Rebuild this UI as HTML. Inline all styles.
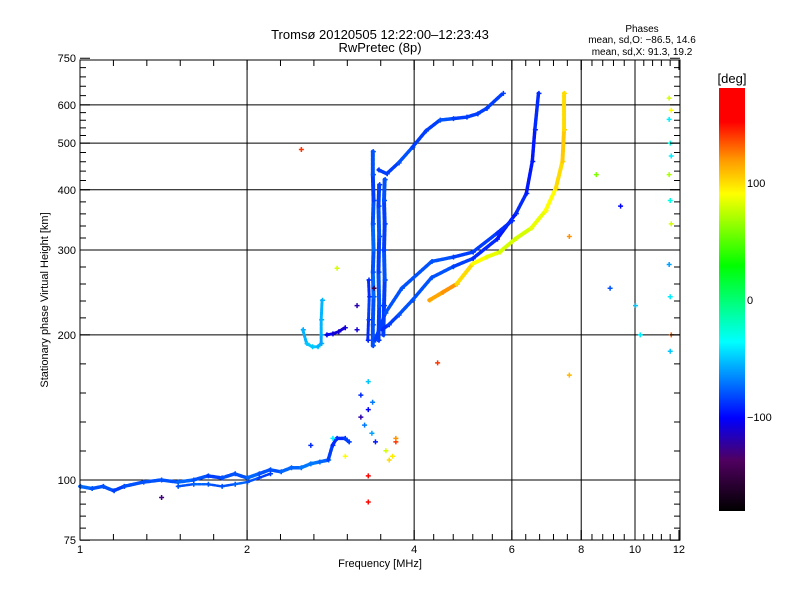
<!DOCTYPE html>
<html><head><meta charset="utf-8"><style>
body{margin:0;background:#fff;width:800px;height:600px;overflow:hidden}
svg text{font-family:"Liberation Sans",sans-serif;fill:#000}
</style></head><body>
<svg id="chart" width="800" height="600" xmlns="http://www.w3.org/2000/svg">
<defs><linearGradient id="cg" x1="0" y1="1" x2="0" y2="0">
<stop offset="0" stop-color="#000"/><stop offset="0.12" stop-color="#500060"/><stop offset="0.22" stop-color="#0000ff"/>
<stop offset="0.4" stop-color="#00ffff"/><stop offset="0.58" stop-color="#00ff00"/><stop offset="0.75" stop-color="#ffff00"/>
<stop offset="0.83" stop-color="#ff9900"/><stop offset="0.92" stop-color="#ff0000"/><stop offset="1" stop-color="#ff0000"/></linearGradient></defs>
<text x="380" y="39" font-size="13" text-anchor="middle">Tromsø 20120505 12:22:00–12:23:43</text>
<text x="380" y="52" font-size="13" text-anchor="middle">RwPretec (8p)</text>
<text x="642" y="32" font-size="10" text-anchor="middle">Phases</text>
<text x="642" y="43" font-size="10" text-anchor="middle">mean, sd,O: −86.5, 14.6</text>
<text x="642" y="55" font-size="10" text-anchor="middle">mean, sd,X:  91.3, 19.2</text>
<rect x="719" y="88" width="26" height="423" fill="url(#cg)"/>
<text x="732" y="83" font-size="13" text-anchor="middle">[deg]</text>
<g id="grid"></g><g id="marks"></g><g id="axes"></g>
<text x="380" y="567" font-size="11" text-anchor="middle">Frequency [MHz]</text>
<text transform="translate(48,300) rotate(-90)" font-size="11" text-anchor="middle">Stationary phase Virtual Height [km]</text>
</svg>
<script>
const xTicks=[1,2,4,6,8,10,12];
const yTicks=[75,100,200,300,400,500,600,750];
const yGrid=[100,200,300,400,500,600];
const xGrid=[2,4,6,8,10];
const cbTicks=[100,0,-100];
// traces: freq (MHz), height (km), phase (deg)
const eFreq=[1,1.05,1.1,1.15,1.2,1.3,1.4,1.5,1.6,1.7,1.8,1.9,2.0,2.1,2.2,2.3,2.4,2.5,2.6,2.7,2.8,2.85,2.9,3.0,3.05];
const eHeight=[97,96,97,95,97,99,100,99,100,102,101,103,101,103,105,104,106,106,108,109,110,118,122,122,120];
const ePhase=[-75,-75,-80,-80,-85,-80,-80,-80,-75,-80,-85,-80,-80,-75,-80,-80,-75,-75,-70,-70,-75,-85,-90,-90,-85];
const e2Freq=[1.5,1.6,1.7,1.8,1.9,2.0,2.1,2.2];
const e2Height=[97,98,98,97,98,99,101,103];
const e2Phase=[-75,-80,-75,-80,-80,-75,-80,-85];
const hookFreq=[2.52,2.56,2.62,2.68,2.72,2.72,2.72,2.73];
const hookHeight=[205,192,189,189,192,200,215,236];
const hookPhase=[-60,-55,-50,-50,-55,-60,-55,-55];
const hook2Freq=[2.78,2.85,2.92,3.0];
const hook2Height=[200,201,203,207];
const hook2Phase=[-100,-105,-110,-110];
const spikeAFreq=[3.37,3.37,3.38,3.37,3.38,3.37,3.38,3.37,3.37];
const spikeAHeight=[190,210,240,270,300,340,380,430,480];
const spikeAPhase=[-85,-80,-80,-75,-80,-75,-80,-85,-80];
const spikeBFreq=[3.52,3.53,3.54,3.53,3.54,3.53,3.54];
const spikeBHeight=[200,230,260,300,340,380,420];
const spikeBPhase=[-80,-85,-85,-80,-85,-85,-80];
const spikeCFreq=[3.45,3.46,3.45,3.46,3.45,3.46];
const spikeCHeight=[195,230,270,320,370,410];
const spikeCPhase=[-90,-85,-80,-85,-80,-85];
const spikeDFreq=[3.30,3.31,3.32,3.31];
const spikeDHeight=[195,215,240,260];
const spikeDPhase=[-95,-90,-85,-90];
const oFreq=[3.5,3.6,3.75,3.97,4.3,4.7,5.1,5.64,6.1,6.37,6.53,6.6,6.7];
const oHeight=[205,210,220,236,263,277,288,316,357,393,458,533,634];
const oPhase=[-85,-90,-85,-80,-80,-80,-85,-90,-95,-90,-95,-95,-90];
const o2Freq=[3.4,3.55,3.8,4.3,4.7,5.1,5.64,6.0];
const o2Height=[195,222,250,284,290,297,325,345];
const o2Phase=[-80,-85,-80,-80,-80,-85,-85,-90];
const fFreq=[3.45,3.57,3.75,3.97,4.2,4.45,4.7,4.97,5.2,5.4,5.78];
const fHeight=[440,432,455,490,530,558,562,566,575,590,634];
const fPhase=[-90,-85,-85,-80,-85,-85,-80,-85,-85,-85,-85];
const xFreq=[4.26,4.5,4.77,5.1,5.4,5.7,6.1,6.5,6.9,7.2,7.4,7.45,7.45];
const xHeight=[236,245,255,281,290,297,317,333,362,403,458,533,634];
const xPhase=[100,115,120,100,90,85,80,80,85,90,100,105,100];
const scFreq=[3.15,3.15,3.2,3.25,3.3,3.35,3.3,3.4,3.2,3.36,3.55,3.6,3.65,3.7,3.7,2.6,2.85,3.3,3.0,11.5,11.6,11.5,11.55,11.6,11.5,11.55,11.6,11.5,11.55,11.6,11.55,9.4,9.0,10.2,10.0,8.5,7.6,7.6,2.5,3.3,4.4,1.4,2.9,3.38];
const scHeight=[205,230,150,130,140,125,160,120,135,145,115,110,112,120,122,118,122,102,112,620,585,560,500,470,430,380,340,280,240,200,185,370,250,200,230,430,320,165,485,90,175,92,275,250];
const scPhase=[-110,-120,-90,-70,-100,-60,-50,-95,-120,-70,80,100,95,140,120,-90,-40,150,90,80,90,-40,-30,-40,70,-30,80,-60,-40,130,-50,-100,-80,-40,-50,60,120,110,140,150,140,-130,80,-150];
function X(f){return 80+555*Math.log10(f);}
function Y(h){return 480-482*Math.log10(h/100);}
function col(p){
 const st=[[0,0,0,0],[0.12,80,0,96],[0.22,0,0,255],[0.4,0,255,255],[0.58,0,255,0],[0.75,255,255,0],[0.83,255,153,0],[0.92,255,0,0],[1,255,0,0]];
 let t=Math.max(0,Math.min(1,(p+180)/360));
 for(let i=1;i<st.length;i++){if(t<=st[i][0]){const a=st[i-1],b=st[i],u=(t-a[0])/(b[0]-a[0]||1);
  return 'rgb('+[1,2,3].map(k=>Math.round(a[k]+(b[k]-a[k])*u)).join(',')+')';}}
 return 'red';
}
const NS='http://www.w3.org/2000/svg';
function el(tag,attrs,parent){const e=document.createElementNS(NS,tag);for(const k in attrs)e.setAttribute(k,attrs[k]);parent.appendChild(e);return e;}
const grid=document.getElementById('grid'),marks=document.getElementById('marks'),axes=document.getElementById('axes');
xGrid.forEach(f=>{const l=el('line',{x1:X(f),x2:X(f),y1:60,y2:540,stroke:'#000','stroke-width':1},grid);

});
yGrid.forEach(h=>{const l=el('line',{x1:80,x2:680,y1:Y(h),y2:Y(h),stroke:'#000','stroke-width':1},grid);

});
function trace(fr,hs,ph,name,w){
 for(let i=0;i<fr.length;i++){
  if(i>0){const s=el('line',{x1:X(fr[i-1]),y1:Y(hs[i-1]),x2:X(fr[i]),y2:Y(hs[i]),stroke:col(ph[i]),'stroke-width':w,'stroke-linecap':'round','stroke-dasharray':'3 1.5'},marks);
   
   }
  const x=X(fr[i]),y=Y(hs[i]);
  const p=el('path',{d:`M${x-2},${y}h5M${x+0.5},${y-2.5}v5`,stroke:col(ph[i]),'stroke-width':1.5},marks);
  
  
 }
}
trace(eFreq,eHeight,ePhase,'e-layer-trace',3.5);
trace(e2Freq,e2Height,e2Phase,'e-layer-lower-trace',2.5);
trace(hookFreq,hookHeight,hookPhase,'hook-trace',3);
trace(hook2Freq,hook2Height,hook2Phase,'hook2-trace',3);
trace(spikeAFreq,spikeAHeight,spikeAPhase,'spike-left-trace',4);
trace(spikeBFreq,spikeBHeight,spikeBPhase,'spike-right-trace',4);
trace(spikeCFreq,spikeCHeight,spikeCPhase,'spike-mid-trace',4);
trace(spikeDFreq,spikeDHeight,spikeDPhase,'spike-outer-trace',3);
trace(oFreq,oHeight,oPhase,'o-mode-trace',3.5);
trace(o2Freq,o2Height,o2Phase,'o-mode-upper-trace',3.5);
trace(fFreq,fHeight,fPhase,'f2-trace',3.5);
trace(xFreq,xHeight,xPhase,'x-mode-trace',4);
for(let i=0;i<scFreq.length;i++){const x=X(scFreq[i]),y=Y(scHeight[i]);
 const p=el('path',{d:`M${x-2},${y}h5M${x+0.5},${y-2.5}v5`,stroke:col(scPhase[i]),'stroke-width':1.5},marks);
 
 }
const fr=el('rect',{x:80,y:60,width:600,height:480,fill:'none',stroke:'#000','stroke-width':1},axes);


for(let i=0;i<xTicks.length-1;i++){const a=X(xTicks[i]),b=X(xTicks[i+1]);for(let k=0;k<=5;k++){const x=a+(b-a)*k/5;const L=k%5?6:10;
 const t=el('path',{d:`M${x},540v-${L}M${x},60v${L}`,stroke:'#000'},axes);
 
 }}
for(let i=0;i<yTicks.length-1;i++){const a=Y(yTicks[i]),b=Y(yTicks[i+1]);for(let k=0;k<=5;k++){const y=a+(b-a)*k/5;const L=k%5?6:10;
 const t=el('path',{d:`M80,${y}h${L}M680,${y}h-${L}`,stroke:'#000'},axes);
 
 }}
xTicks.forEach(f=>{const t=el('text',{x:X(f),y:553,'font-size':11,'text-anchor':'middle'},axes);t.textContent=f;
 
 });
yTicks.forEach(h=>{const t=el('text',{x:76,y:Y(h)+4,'font-size':11,'text-anchor':'end'},axes);t.textContent=h;
 
 });
cbTicks.forEach(v=>{const y=300-1.17*v;const t=el('text',{x:747,y:y+4,'font-size':11},axes);t.textContent=v<0?'−'+(-v):v;
 
 });
</script>
</body></html>
